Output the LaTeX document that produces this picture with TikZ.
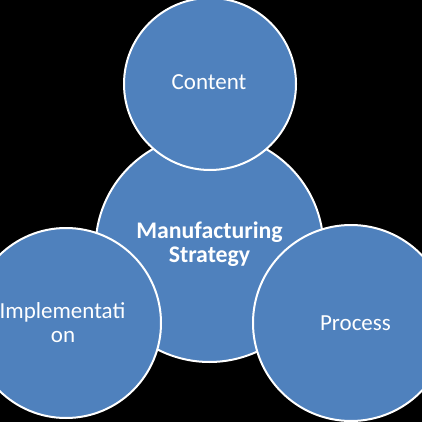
\documentclass[tikz,border=0pt]{standalone}
\usepackage{fontspec}
\setmainfont{Carlito}
\definecolor{discblue}{HTML}{4F81BD}
\tikzset{
  disc/.style={circle, fill=discblue, draw=white, line width=2pt, inner sep=0pt},
  lbl/.style={text=white, font=\fontsize{23}{24}\selectfont, anchor=base, inner sep=0pt},
  lblb/.style={lbl, font=\fontsize{23.8}{24}\selectfont\bfseries}
}
\begin{document}
\begin{tikzpicture}[x=1pt,y=-1pt]
\useasboundingbox (0,0) rectangle (422,422);
\fill[black] (0,0) rectangle (422,422);
\begin{scope}
\clip (0,0) rectangle (422,422);
\node[disc, minimum size=228pt] (center) at (209.5,248) {};
\node[disc, minimum size=172pt] (top) at (210,84) {};
\node[disc, minimum size=190pt] (left) at (66,323) {};
\node[disc, minimum size=196pt] (right) at (351,323) {};
\end{scope}
\node[lbl] (contentLbl) at (209,90) {Content};
\node[lblb] (mfgA) at (209.5,238) {Manufacturing};
\node[lblb] (mfgB) at (209.5,262) {Strategy};
\node[lbl] (implA) at (62.5,318) {Implementati};
\node[lbl] (implB) at (63,342) {on};
\node[lbl] (procLbl) at (355.5,330) {Process};
\end{tikzpicture}
\end{document}
